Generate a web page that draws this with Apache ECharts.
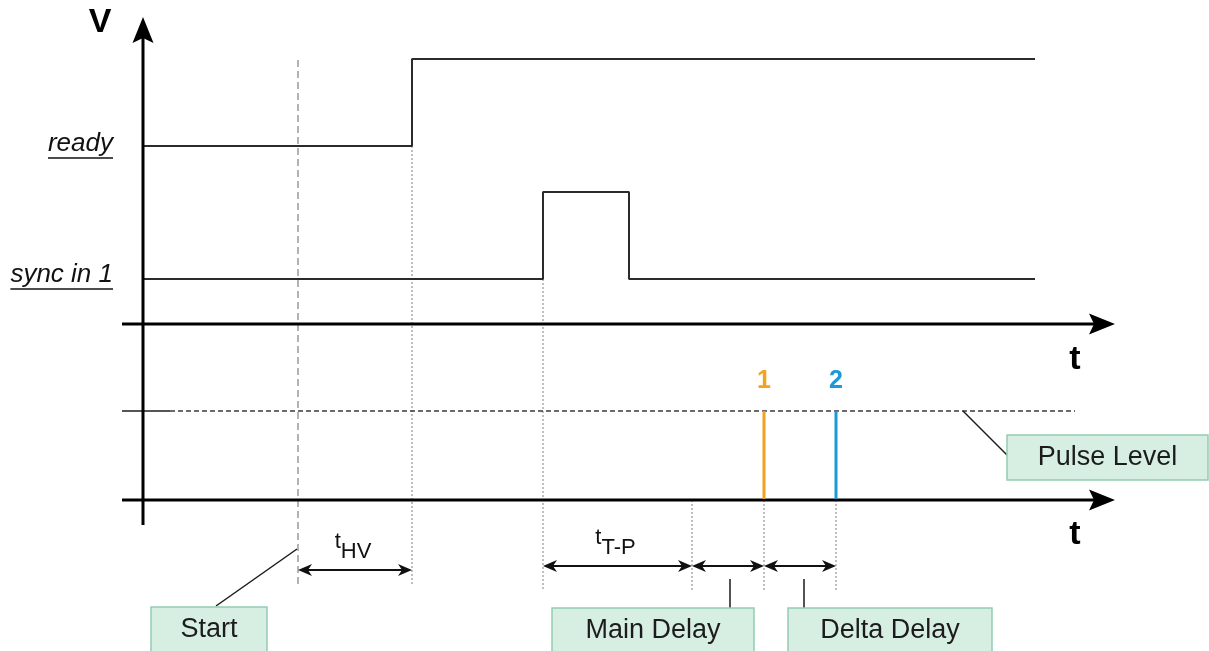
<!DOCTYPE html>
<html><head><meta charset="utf-8">
<script src="https://cdn.jsdelivr.net/npm/echarts@6/dist/echarts.min.js"></script>
<style>html,body{margin:0;padding:0;background:#fff}#c{width:1209px;height:651px}</style>
</head><body><div id="c"></div>
<script>
// Diagram units: x = time (origin at V axis), y = level (origin at lower t axis)
const readyWave = [[0,354],[269,354],[269,441],[892,441]];
const syncWave = [[0,221],[400,221],[400,308],[486,308],[486,221],[892,221]];
const levelNames = ['ready','sync in 1'];
const levelValues = [354, 223];
const axisArrows = [[0,-25,0,483],[-21,176,972,176],[-21,0,972,0]];
const axisNames = ['V','t','t'];
const axisNamePos = [[-43,477],[932,140],[932,-35]];
const pulseLevel = 89;
const pulseLevelSpan = [-21, 27, 932];
const pulseTimes = [621, 693];
const pulseNames = ['1','2'];
const pulseLabelLevel = 119;
const guideLines = [[155,440,-88],[269,354,-85],[400,221,-90],[549,0,-90],[621,0,-90],[693,0,-90]];
const spans = [[155,269,-70],[400,549,-66],[549,621,-66],[621,693,-66]];
const spanMain = ['t','t'];
const spanSub = ['HV','T-P'];
const boxes = [[8,-107,124],[409,-108,611],[645,-108,849],[864,65,1065]];
const boxNames = ['Start','Main Delay','Delta Delay','Pulse Level'];
const leaders = [[73,-106,154,-49],[587,-79,587,-108],[661,-79,661,-108],[820,89,864,45]];

const FONT = '"Liberation Sans", Arial, Helvetica, sans-serif';
const ctx2d = document.createElement('canvas').getContext('2d');
function textW(str, font){ ctx2d.font = font; return ctx2d.measureText(str).width; }
function head(tip, dir, L, W, N){
  const dx=dir[0], dy=dir[1], px=-dy, py=dx;
  return [tip,[tip[0]-dx*L+px*W, tip[1]-dy*L+py*W],[tip[0]-dx*(L-N), tip[1]-dy*(L-N)],[tip[0]-dx*L-px*W, tip[1]-dy*L-py*W]];
}
function unit(a,b){ const dx=b[0]-a[0], dy=b[1]-a[1], l=Math.hypot(dx,dy)||1; return [dx/l, dy/l]; }

const chart = echarts.init(document.getElementById('c'), null, {renderer:'canvas'});
const base = {coordinateSystem:'cartesian2d', animation:false, silent:true};
chart.setOption({
  backgroundColor:'#ffffff',
  animation:false,
  grid:{left:0,right:0,top:0,bottom:0},
  xAxis:{type:'value',min:-143,max:1066,show:false},
  yAxis:{type:'value',min:-151,max:500,show:false},
  series:[
    Object.assign({}, base, {type:'custom', z:1, data:guideLines,
      renderItem(params, api){
        const a=api.coord([api.value(0),api.value(1)]), b=api.coord([api.value(0),api.value(2)]);
        const first = params.dataIndex===0;
        return {type:'line', shape:{x1:a[0],y1:a[1],x2:b[0],y2:b[1]},
          style:{stroke: first?'#b3b3b3':'#a9a9a9', lineWidth: first?2:1.5, lineDash: first?[7,4]:[2,2]}};
      }}),
    Object.assign({}, base, {type:'line', z:3, data:readyWave, symbol:'none', lineStyle:{color:'#2b2b2b',width:2}}),
    Object.assign({}, base, {type:'line', z:3, data:syncWave, symbol:'none', lineStyle:{color:'#2b2b2b',width:2}}),
    Object.assign({}, base, {type:'line', z:3, data:[[pulseLevelSpan[0],pulseLevel],[pulseLevelSpan[1],pulseLevel]], symbol:'none', lineStyle:{color:'#555',width:2}}),
    Object.assign({}, base, {type:'line', z:3, data:[[pulseLevelSpan[1],pulseLevel],[pulseLevelSpan[2],pulseLevel]], symbol:'none', lineStyle:{color:'#3a3a3a',width:1.6,type:[5,3]}}),
    Object.assign({}, base, {type:'custom', z:5, data:axisArrows,
      renderItem(params, api){
        const a=api.coord([api.value(0),api.value(1)]), b=api.coord([api.value(2),api.value(3)]);
        const d=unit(a,b);
        return {type:'group', children:[
          {type:'line', shape:{x1:a[0],y1:a[1],x2:b[0]-d[0]*20,y2:b[1]-d[1]*20}, style:{stroke:'#000',lineWidth:3}},
          {type:'polygon', shape:{points:head(b,d,26,10.5,5)}, style:{fill:'#000'}}
        ]};
      }}),
    Object.assign({}, base, {type:'custom', z:6, data:pulseTimes,
      renderItem(params, api){
        const t=api.value(0);
        const a=api.coord([t,pulseLevel]), b=api.coord([t,0]), l=api.coord([t,pulseLabelLevel]);
        const col=['#f3a21e','#1b9ad7'][params.dataIndex];
        return {type:'group', children:[
          {type:'line', shape:{x1:a[0],y1:a[1],x2:b[0],y2:b[1]-1}, style:{stroke:col,lineWidth:3}},
          {type:'text', style:{text:pulseNames[params.dataIndex], x:l[0], y:l[1], align:'center', verticalAlign:'middle', fill:col, font:'bold 25px '+FONT}}
        ]};
      }}),
    Object.assign({}, base, {type:'custom', z:6, data:spans,
      renderItem(params, api){
        const a=api.coord([api.value(0),api.value(2)]), b=api.coord([api.value(1),api.value(2)]);
        const d=unit(a,b), nd=[-d[0],-d[1]];
        const kids=[
          {type:'line', shape:{x1:a[0]+6,y1:a[1],x2:b[0]-6,y2:b[1]}, style:{stroke:'#111',lineWidth:2}},
          {type:'polygon', shape:{points:head(b,d,14,6,4)}, style:{fill:'#111'}},
          {type:'polygon', shape:{points:head(a,nd,14,6,4)}, style:{fill:'#111'}}
        ];
        const i=params.dataIndex;
        if (i < spanSub.length){
          const fs='22px '+FONT;
          const wt=textW(spanMain[i],fs), ws=textW(spanSub[i],fs);
          const cx=(a[0]+b[0])/2 - 2, left=cx-(wt+ws)/2;
          kids.push({type:'text', style:{text:spanMain[i], x:left, y:a[1]-17, align:'left', verticalAlign:'bottom', fill:'#111', font:fs}});
          kids.push({type:'text', style:{text:spanSub[i], x:left+wt, y:a[1]-7, align:'left', verticalAlign:'bottom', fill:'#111', font:fs}});
        }
        return {type:'group', children:kids};
      }}),
    Object.assign({}, base, {type:'custom', z:7, data:leaders,
      renderItem(params, api){
        const a=api.coord([api.value(0),api.value(1)]), b=api.coord([api.value(2),api.value(3)]);
        return {type:'line', shape:{x1:a[0],y1:a[1],x2:b[0],y2:b[1]}, style:{stroke:'#1a1a1a',lineWidth:1.5}};
      }}),
    Object.assign({}, base, {type:'custom', z:8, data:boxes,
      renderItem(params, api){
        const a=api.coord([api.value(0),api.value(1)]), b=api.coord([api.value(2),api.value(1)]);
        return {type:'group', children:[
          {type:'rect', shape:{x:a[0],y:a[1],width:b[0]-a[0],height:45}, style:{fill:'#d7eee3',stroke:'#92cdb3',lineWidth:1.5}},
          {type:'text', style:{text:boxNames[params.dataIndex], x:(a[0]+b[0])/2, y:a[1]+22.5, align:'center', verticalAlign:'middle', fill:'#1c1c1c', font:'27px '+FONT}}
        ]};
      }}),
    Object.assign({}, base, {type:'custom', z:8, data:axisNamePos,
      renderItem(params, api){
        const p=api.coord([api.value(0),api.value(1)]);
        return {type:'text', style:{text:axisNames[params.dataIndex], x:p[0], y:p[1], align:'center', verticalAlign:'middle', fill:'#000', font:'bold 34px '+FONT}};
      }}),
    Object.assign({}, base, {type:'custom', z:8, data:levelValues,
      renderItem(params, api){
        const p=api.coord([-30, api.value(0)]);
        const f='italic 26px '+FONT, s=levelNames[params.dataIndex], w=textW(s,f);
        return {type:'group', children:[
          {type:'text', style:{text:s, x:p[0], y:p[1]-2, align:'right', verticalAlign:'middle', fill:'#111', font:f}},
          {type:'line', shape:{x1:p[0]-w,y1:p[1]+12,x2:p[0],y2:p[1]+12}, style:{stroke:'#111',lineWidth:1.5}}
        ]};
      }})
  ]
});
</script></body></html>
